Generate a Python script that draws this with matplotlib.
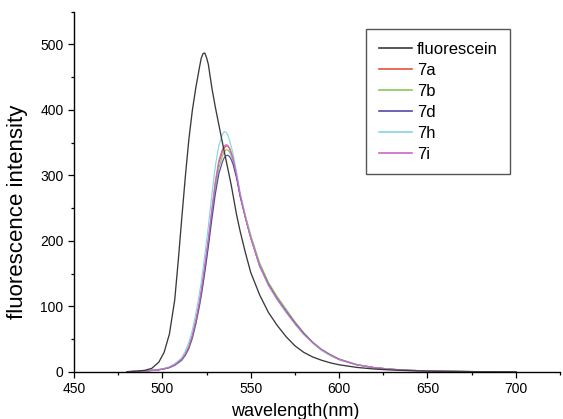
import matplotlib.pyplot as plt
from matplotlib.ticker import MultipleLocator

plt.rcParams["font.family"] = ["Liberation Sans", "DejaVu Sans"]

# wavelength grid (nm) shared by all spectra
wavelength = [480, 485, 490, 494, 498, 501, 504, 507, 509, 511, 513, 515, 517, 519, 521,
              522, 523, 524, 525, 526, 527, 528, 530, 532, 534, 535, 536, 537, 538, 539,
              540, 542, 544, 547, 550, 555, 560, 565, 570, 575, 580, 585, 590, 595, 600,
              610, 620, 630, 640, 650, 660, 680, 700]

fluorescein = [0.5, 1.2, 2.5, 5.5, 15, 30, 58, 110, 170, 235, 298, 355, 400, 435, 465,
               479, 486, 487, 480, 470, 452, 434, 404, 377, 350, 337, 324, 311, 298, 285,
               270, 240, 215, 182, 152, 118, 91, 71, 54, 40, 30, 23, 18, 14, 11,
               7, 4.5, 3, 2, 1.3, 0.9, 0.4, 0.2]

s7a = [0.5, 1, 1.5, 2.5, 3.5, 5, 7, 11, 15, 19, 27, 38, 55, 78, 106,
       122, 140, 160, 180, 200, 222, 245, 288, 320, 337, 342, 345, 345, 341, 334,
       325, 300, 270, 236, 205, 162, 133, 111, 92, 74, 58, 45, 34, 26, 19,
       11, 6.5, 4, 2.5, 1.6, 1.1, 0.5, 0.3]

s7b = [0.5, 0.8, 1.3, 2.2, 3.2, 4.5, 6.5, 10, 13.5, 17.5, 25, 35, 51, 73, 100,
       116, 134, 153, 173, 194, 216, 238, 280, 312, 330, 336, 339, 339, 336, 330,
       322, 299, 271, 239, 209, 167, 137, 115, 96, 77, 60, 46, 35, 27, 20,
       11.5, 6.8, 4.2, 2.6, 1.7, 1.1, 0.5, 0.3]

s7d = [0.5, 0.9, 1.4, 2.4, 3.4, 4.8, 6.8, 10.5, 14.5, 18.5, 26, 37, 53, 75, 102,
       117, 134, 152, 171, 191, 212, 233, 272, 303, 321, 327, 330, 331, 329, 324,
       317, 296, 268, 235, 205, 163, 134, 112, 93, 75, 59, 45, 34, 26, 19.5,
       11, 6.6, 4.1, 2.5, 1.6, 1.1, 0.5, 0.3]

s7h = [0.5, 1, 1.5, 2.8, 4, 5.5, 8, 12.5, 17, 22, 32, 45, 64, 90, 120,
       137, 157, 178, 200, 222, 246, 270, 315, 346, 363, 367, 366, 362, 354, 344,
       333, 305, 274, 238, 206, 162, 132, 110, 91, 73, 57, 44, 33, 25, 19,
       11, 6.5, 4, 2.5, 1.6, 1.1, 0.5, 0.3]

s7i = [0.5, 1, 1.5, 2.6, 3.6, 5.1, 7.2, 11.2, 15.3, 19.5, 27.5, 39, 56, 79, 107,
       124, 142, 162, 182, 203, 225, 248, 291, 323, 340, 345, 347, 346, 342, 335,
       326, 301, 271, 236, 205, 162, 133, 111, 92, 74, 58, 45, 34, 26, 19,
       11, 6.5, 4, 2.5, 1.6, 1.1, 0.5, 0.3]

labels = ["fluorescein", "7a", "7b", "7d", "7h", "7i"]
colors = ["#3a3a3a", "#e8503f", "#86c85a", "#5548a8", "#86d6e2", "#d064c4"]

fig = plt.figure(figsize=(5.63, 4.19), dpi=100)
ax = fig.add_axes([0.1314, 0.1122, 0.8633, 0.8598])

series = [fluorescein, s7a, s7b, s7d, s7h, s7i]
for i, (vals, lab, col) in enumerate(zip(series, labels, colors)):
    z = 5 if i == 0 else 2 + i * 0.1
    ax.plot(wavelength, vals, color=col, lw=0.95 if i == 0 else 0.85, label=lab, zorder=z)

ax.set_xlim(450, 725)
ax.set_ylim(0, 550)
ax.spines["top"].set_visible(False)
ax.spines["right"].set_visible(False)
for s in ("left", "bottom"):
    ax.spines[s].set_linewidth(1.0)

ax.xaxis.set_major_locator(MultipleLocator(50))
ax.xaxis.set_minor_locator(MultipleLocator(25))
ax.yaxis.set_major_locator(MultipleLocator(100))
ax.yaxis.set_minor_locator(MultipleLocator(50))
ax.set_xticks([450, 500, 550, 600, 650, 700])
ax.tick_params(which="major", direction="out", length=4.5, width=0.9, labelsize=10, pad=3)
ax.tick_params(which="minor", direction="out", length=2.5, width=0.9)

ax.set_xlabel("wavelength(nm)", fontsize=13)
ax.xaxis.set_label_coords(0.455, -0.085)
ax.set_ylabel("fluorescence intensity", fontsize=16)
ax.yaxis.set_label_coords(-0.094, 0.444)

leg = ax.legend(loc="upper left", bbox_to_anchor=(0.601, 0.951), borderaxespad=0,
                fontsize=12, handlelength=2.0, handletextpad=0.3, labelspacing=0.36,
                borderpad=0.75, fancybox=False, framealpha=1)
leg.get_frame().set_edgecolor("#555555")
leg.get_frame().set_linewidth(1.0)
for h in leg.get_lines():
    h.set_linewidth(1.2)

fig.savefig("out.png", dpi=100)
